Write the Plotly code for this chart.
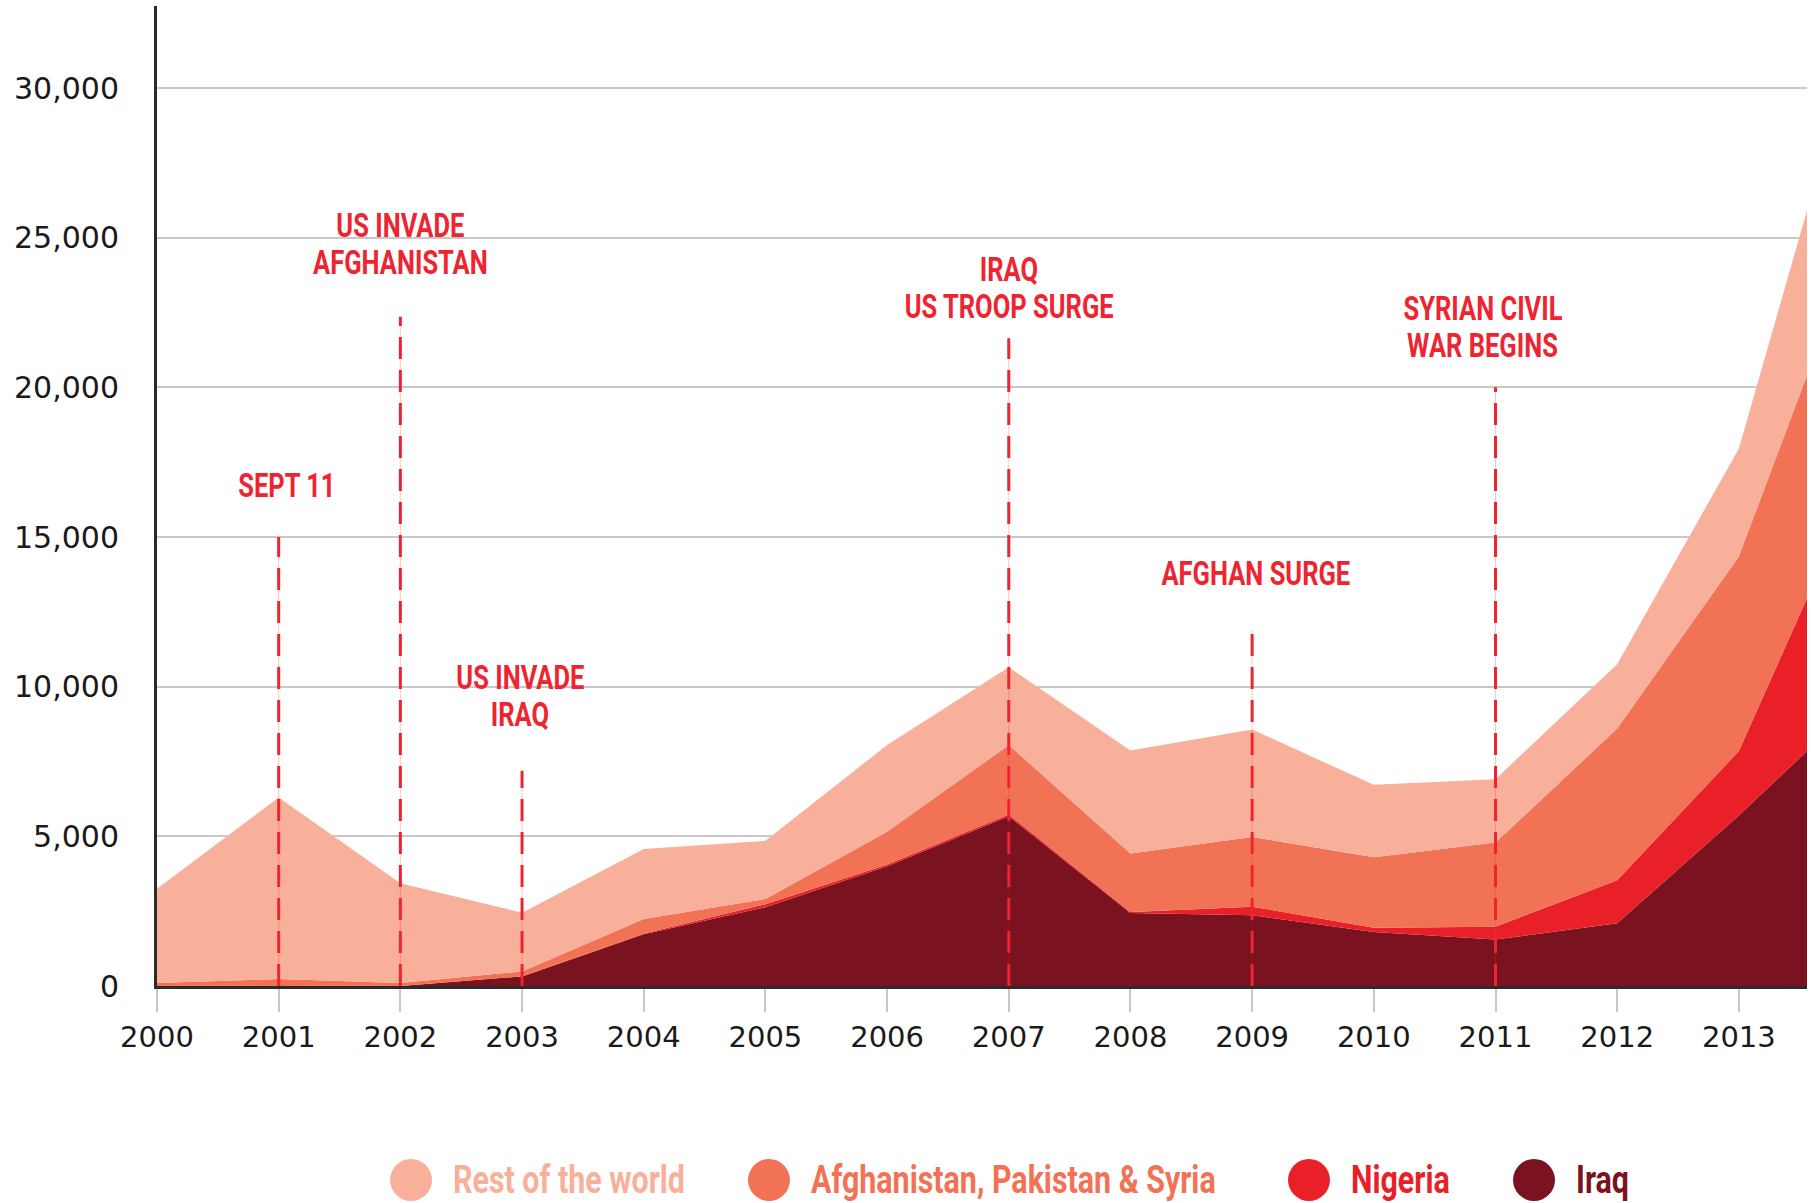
import json
import plotly.graph_objects as go

# ---- data ----
years = list(range(2000, 2015))
iraq = [0, 0, 0, 320, 1730, 2630, 4000, 5670, 2440, 2360, 1800, 1550, 2100, 5700, 9540]
nigeria = [0, 0, 0, 0, 20, 100, 60, 60, 30, 290, 150, 430, 1430, 2150, 7420]
afpaksyr = [100, 230, 100, 165, 490, 180, 1090, 2320, 1960, 2330, 2350, 2810, 5070, 6500, 8200]
rest = [3150, 6070, 3330, 1965, 2340, 1940, 2900, 2600, 3440, 3590, 2420, 2120, 2150, 3600, 6990]

series_names = ["Iraq", "Nigeria", "Afghanistan, Pakistan & Syria", "Rest of the world"]
series_values = [iraq, nigeria, afpaksyr, rest]
series_colors = ["#7A1220", "#EA2028", "#F27255", "#F8B09A"]

tick_years = list(range(2000, 2014))
y_ticks = [0, 5000, 10000, 15000, 20000, 25000, 30000]

event_labels = [["SEPT 11"], ["US INVADE", "AFGHANISTAN"], ["US INVADE", "IRAQ"],
                ["IRAQ", "US TROOP SURGE"], ["AFGHAN SURGE"], ["SYRIAN CIVIL", "WAR BEGINS"]]
event_years = [2001, 2002, 2003, 2007, 2009, 2011]
event_line_tops = [15000, 22360, 7190, 21640, 11900, 20000]

legend_order = ["Rest of the world", "Afghanistan, Pakistan & Syria", "Nigeria", "Iraq"]

# ---- figure ----
W, H = 1814, 1203
ML, MR, MT, MB = 157, 7, 6, 217
RED = "#EE2431"
COND = "Roboto, Liberation Sans, sans-serif"
EV_SCALE = 0.75
LEG_SCALE = 0.8

fig = go.Figure()
for name, vals, col in zip(series_names, series_values, series_colors):
    fig.add_trace(go.Scatter(
        x=years, y=vals, name=name, mode="lines", stackgroup="one",
        line=dict(width=0, color=col), fillcolor=col, showlegend=False,
        hoverinfo="skip"))

shapes = []
for yr, top in zip(event_years, event_line_tops):
    shapes.append(dict(type="line", xref="x", yref="y", x0=yr, x1=yr, y0=0, y1=top,
                       line=dict(color="rgba(238,36,49,0.25)", width=1)))
    shapes.append(dict(type="line", xref="x", yref="y", x0=yr, x1=yr, y0=0, y1=top,
                       line=dict(color=RED, width=3, dash="22px,11px")))

annotations = []
modes = []
# event text placement (layout): x pixel shift, vertical centre value
ev_pos = [(8, 16750), (0, 24790), (-2, 9690), (0, 23330), (4, 13800), (-13, 22030)]
LINE_GAP = 37
for lines, yr, (dx, yv) in zip(event_labels, event_years, ev_pos):
    n = len(lines)
    for k, txt in enumerate(lines):
        annotations.append(dict(
            x=yr, y=yv, xref="x", yref="y", text=txt, showarrow=False,
            xshift=dx, yshift=((n - 1) / 2 - k) * LINE_GAP,
            xanchor="center", yanchor="middle", align="center",
            font=dict(family=COND, size=34, color=RED, weight="bold")))
        modes.append(["c", EV_SCALE])

plot_w = W - ML - MR
plot_h = H - MT - MB
circle_px = [411, 769, 1309, 1534]
legend_y_px = 1180
color_of = dict(zip(series_names, series_colors))
for name, cx in zip(legend_order, circle_px):
    xp = (cx - ML) / plot_w
    yp = (H - MB - legend_y_px) / plot_h
    col = color_of[name]
    shapes.append(dict(type="circle", xref="paper", yref="paper",
                       xsizemode="pixel", ysizemode="pixel",
                       xanchor=xp, yanchor=yp, x0=-21, x1=21, y0=-21, y1=21,
                       fillcolor=col, line=dict(width=0)))
    annotations.append(dict(
        x=xp, y=yp, xref="paper", yref="paper", text=name, showarrow=False,
        xshift=40, xanchor="left", yanchor="middle",
        font=dict(family=COND, size=38, color=col, weight="bold")))
    modes.append(["l", LEG_SCALE])

fig.update_layout(
    width=W, height=H,
    margin=dict(l=ML, r=MR, t=MT, b=MB, pad=0),
    paper_bgcolor="white", plot_bgcolor="white",
    showlegend=False, hovermode=False,
    shapes=shapes, annotations=annotations,
    xaxis=dict(
        range=[2000, 2013.56], tickvals=tick_years, ticktext=[str(y) for y in tick_years],
        showgrid=False, zeroline=False,
        showline=True, linecolor="#2b2b2b", linewidth=3,
        ticks="outside", ticklen=23, tickwidth=2, tickcolor="#c8c8cc",
        tickfont=dict(family="DejaVu Sans, sans-serif", size=29, color="#1a1a1a"),
        ticklabelstandoff=0,
    ),
    yaxis=dict(
        range=[0, 32740], tickvals=y_ticks, ticktext=[f"{v:,}" for v in y_ticks],
        showgrid=True, gridcolor="#c8c8cc", gridwidth=2, zeroline=False,
        showline=True, linecolor="#2b2b2b", linewidth=3,
        ticks="", ticklabelstandoff=29,
        tickfont=dict(family="DejaVu Sans, sans-serif", size=30, color="#1a1a1a"),
    ),
)

post = """
document.body.style.margin = '0';
document.body.style.padding = '0';
var gd = document.getElementById('{plot_id}');
var MODES = %s;
function squeeze() {
  var anns = gd.querySelectorAll('g.annotation');
  anns.forEach(function(a) {
    var idx = parseInt(a.getAttribute('data-index'));
    var m = MODES[idx];
    if (!m) return;
    var t = a.querySelector('text.annotation-text');
    if (!t) return;
    var b = t.getBBox();
    var px = (m[0] === 'l') ? b.x : b.x + b.width / 2;
    t.setAttribute('transform', 'translate(' + px + ',0) scale(' + m[1] + ',1) translate(' + (-px) + ',0)');
  });
}
squeeze();
if (gd.on) { gd.on('plotly_afterplot', squeeze); }
""" % json.dumps(modes)

fig.write_html("out.html", post_script=post, config={"displayModeBar": False})
